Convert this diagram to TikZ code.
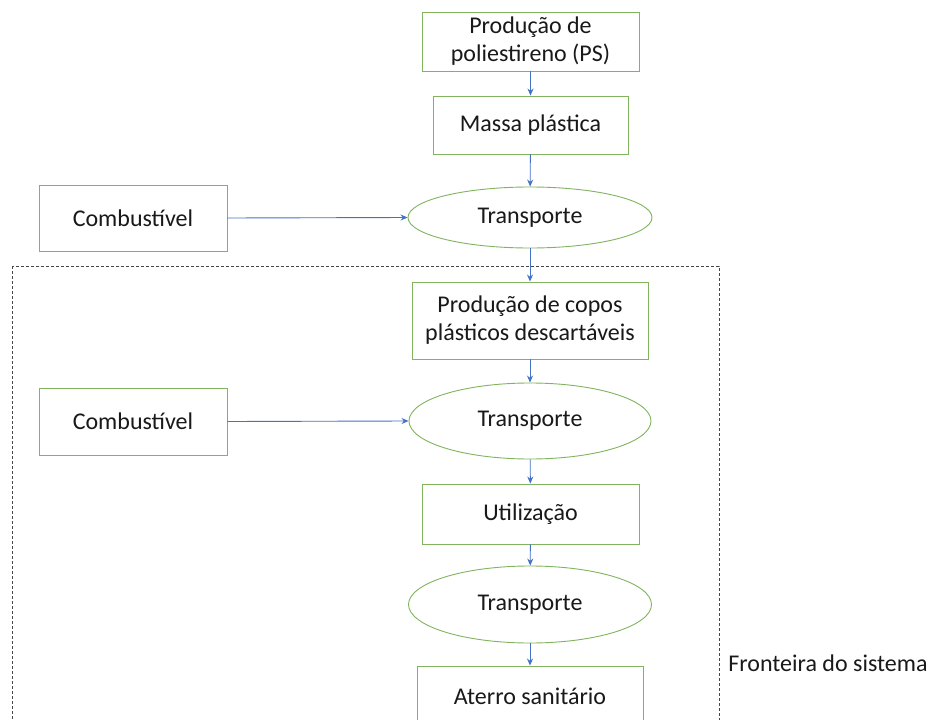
\documentclass[tikz,border=0pt]{standalone}
\usepackage{fontspec}
\setmainfont{Carlito}
\usetikzlibrary{shapes.geometric,arrows.meta}
\definecolor{boxgreen}{RGB}{130,180,95}
\definecolor{arrowblue}{RGB}{68,114,196}
\definecolor{dashgray}{RGB}{70,70,70}
\begin{document}
\begin{tikzpicture}[x=1pt,y=-1pt,
  procbox/.style={draw=boxgreen, line width=0.9pt, rectangle, inner sep=0pt, align=center,
    font=\fontsize{24}{28}\selectfont, text=black!90},
  procell/.style={draw=boxgreen, line width=0.9pt, ellipse, inner sep=0pt, align=center,
    font=\fontsize{24}{28}\selectfont, text=black!90},
  flow/.style={draw=arrowblue, line width=0.9pt, -{Stealth[length=7pt,width=6pt]}},
  boundary/.style={draw=dashgray, line width=0.8pt, dash pattern=on 3pt off 2pt},
]
\clip (0,0) rectangle (935,720);
\fill[white] (0,0) rectangle (935,720);

% main column
\node[procbox, minimum width=217pt, minimum height=59pt] (b1) at (530.5,41.5) {Produção de\\poliestireno (PS)};
\node[procbox, minimum width=195pt, minimum height=58pt] (b2) at (530.5,125) {Massa plástica};
\node[procell, minimum width=244pt, minimum height=61pt] (e1) at (530,217.5) {Transporte};
\node[procbox, minimum width=236pt, minimum height=77pt] (b3) at (530,320.5) {Produção de copos\\plásticos descartáveis};
\node[procell, minimum width=242pt, minimum height=76pt] (e2) at (530,421) {Transporte};
\node[procbox, minimum width=217pt, minimum height=60pt] (b4) at (530.5,514) {Utilização};
\node[procell, minimum width=243pt, minimum height=77pt] (e3) at (530,604.5) {Transporte};
\node[procbox, minimum width=226pt, minimum height=60pt] (b5) at (530,696) {Aterro sanitário};

% fuel inputs
\node[procbox, minimum width=188pt, minimum height=66pt] (c1) at (133,218) {Combustível};
\node[procbox, minimum width=188pt, minimum height=67pt] (c2) at (133,421.5) {Combustível};

% system boundary
\draw[boundary] (12,266) rectangle (719,745);
\node[font=\fontsize{24}{28}\selectfont, text=black!90] (front) at (828,663) {Fronteira do sistema};

% connectors
\draw[flow] (b1) -- (b2);
\draw[flow] (b2) -- (e1);
\draw[flow] (e1) -- (b3);
\draw[flow] (b3) -- (e2);
\draw[flow] (e2) -- (b4);
\draw[flow] (b4) -- (e3);
\draw[flow] (e3) -- (b5);
\draw[flow] (c1.east) -- (e1.west);
\draw[flow] (c2.east) -- (e2.west);
\end{tikzpicture}
\end{document}
